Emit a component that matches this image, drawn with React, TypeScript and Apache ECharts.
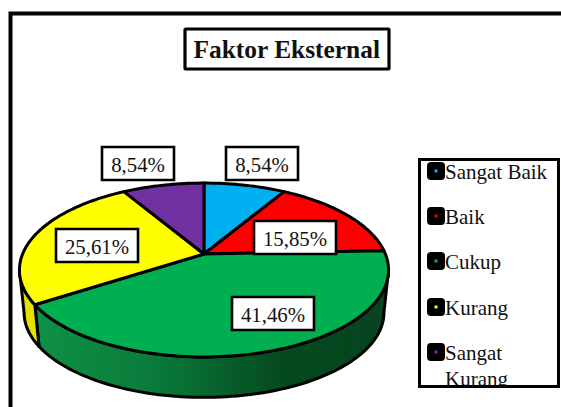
import React, { useEffect, useRef } from "react";
import * as echarts from "echarts";

const categories = ["Sangat Baik", "Baik", "Cukup", "Kurang", "Sangat Kurang"];
const legendLines = [["Sangat Baik"], ["Baik"], ["Cukup"], ["Kurang"], ["Sangat", "Kurang"]];
const values = [8.54, 15.85, 41.46, 25.61, 8.54];
const labels = ["8,54%", "15,85%", "41,46%", "25,61%", "8,54%"];
const colors = ["#00B0F0", "#FF0000", "#00B050", "#FFFF00", "#7030A0"];
const titleText = "Faktor Eksternal";

const FONT = "'Liberation Serif', serif";
const labelBoxes = [
  [226, 147, 72, 33],
  [254, 221, 82, 33],
  [232, 297, 82, 33],
  [56, 229, 82, 33],
  [102, 147, 72, 33],
];
const legendRows = [162, 207, 252, 298, 343];

// Perspective projection of the pie disc.
const CX = 204, CY = 254, A = 181.4, B = 84, K = 0.184, DEPTH = 43, SHRINK = 0.975;
const LEFT_VIS = 259.4, RIGHT_VIS = 100.6;

function project(deg: number, bottom = false): number[] {
  const r = (deg * Math.PI) / 180;
  const u = Math.sin(r), v = Math.cos(r), w = 1 + K * v;
  const s = bottom ? SHRINK : 1;
  return [CX + (A * s * u) / w, CY - (B * s * v) / w + (bottom ? DEPTH : 0)];
}
function rim(from: number, to: number, bottom = false): number[][] {
  const n = Math.max(2, Math.ceil(Math.abs(to - from) / 1.5));
  const pts: number[][] = [];
  for (let i = 0; i <= n; i++) pts.push(project(from + ((to - from) * i) / n, bottom));
  return pts;
}
const total = values.reduce((a, b) => a + b, 0);
function startAngle(i: number): number {
  let s = 0;
  for (let j = 0; j < i; j++) s += values[j];
  return (s / total) * 360;
}

const stroke = { stroke: "#000", lineWidth: 3, lineJoin: "round" as const };

function renderWedge(params: any, api: any) {
  const i = params.dataIndex;
  const a0 = startAngle(i);
  const a1 = a0 + (api.value(0) / total) * 360;
  const children: any[] = [];
  const s0 = Math.max(a0, RIGHT_VIS), s1 = Math.min(a1, LEFT_VIS);
  if (s1 > s0) {
    const isGreen = categories[i] === "Cukup";
    const fill = isGreen
      ? new echarts.graphic.LinearGradient(30, 0, 390, 0, [
          { offset: 0, color: "#0F9247" },
          { offset: 0.35, color: "#0A7A3A" },
          { offset: 0.7, color: "#05491F" },
          { offset: 1, color: "#07441F" },
        ], true)
      : "#E3E300";
    children.push({
      type: "polygon",
      shape: { points: [...rim(s0, s1), ...rim(s1, s0, true)] },
      style: { fill, ...stroke },
    });
  }
  children.push({
    type: "polygon",
    shape: { points: [[CX, CY], ...rim(a0, a1)] },
    style: { fill: colors[i], ...stroke },
  });
  return { type: "group", children };
}

function renderLabel(params: any) {
  const i = params.dataIndex;
  const [x, y, w, h] = labelBoxes[i];
  return {
    type: "group",
    children: [
      { type: "rect", shape: { x, y, width: w, height: h }, style: { fill: "#fff", stroke: "#000", lineWidth: 2.6 } },
      {
        type: "text",
        style: {
          x: x + w / 2, y: y + h / 2 + 1, text: labels[i], fill: "#111",
          font: `20.8px ${FONT}`, align: "center", verticalAlign: "middle",
        },
      },
    ],
  };
}

function legendGraphic() {
  const els: any[] = [];
  legendLines.forEach((lines, i) => {
    const top = legendRows[i];
    els.push({ type: "rect", z: 10, shape: { x: 427, y: top, width: 18, height: 18, r: 4 }, style: { fill: "#000" } });
    els.push({ type: "rect", z: 11, shape: { x: 434.5, y: top + 7.5, width: 3, height: 3 }, style: { fill: colors[i] } });
    lines.forEach((line, j) => {
      els.push({
        type: "text", z: 10,
        style: {
          x: 445, y: top + 9.5 + j * 26, text: line, fill: "#111",
          font: `21px ${FONT}`, align: "left", verticalAlign: "middle",
        },
      });
    });
  });
  return els;
}

export default function App() {
  const ref = useRef<HTMLDivElement>(null);
  useEffect(() => {
    document.body.style.margin = "0";
    document.body.style.background = "#fff";
    const chart = echarts.init(ref.current!, null, { renderer: "svg" });
    chart.setOption({
      animation: false,
      backgroundColor: "#fff",
      title: {
        text: titleText,
        left: 185,
        top: 28.5,
        padding: [6, 8.5, 7, 8.5],
        borderColor: "#000",
        borderWidth: 3.2,
        borderRadius: 1,
        backgroundColor: "#fff",
        textStyle: { fontFamily: FONT, fontWeight: "bold", fontSize: 25.4, color: "#111", lineHeight: 28 },
      },
      graphic: [
        { type: "polyline", z: 1, shape: { points: [[10.5, 407], [10.5, 13.5], [561, 13.5]] }, style: { fill: "none", stroke: "#000", lineWidth: 4 } },
        { type: "rect", z: 1, shape: { x: 419.5, y: 159.5, width: 139, height: 227 }, style: { fill: "#fff" } },
        ...legendGraphic(),
        { type: "rect", z: 20, shape: { x: 416, y: 387, width: 145, height: 20 }, style: { fill: "#fff" } },
        { type: "rect", z: 21, shape: { x: 419.5, y: 159.5, width: 139, height: 227 }, style: { fill: "none", stroke: "#000", lineWidth: 3 } },
      ],
      series: [
        { type: "custom", coordinateSystem: "none", renderItem: renderWedge, data: values.map((v) => [v]), z: 2, clip: false },
        { type: "custom", coordinateSystem: "none", renderItem: renderLabel, data: values.map((v) => [v]), z: 3, clip: false },
      ],
    });
    return () => chart.dispose();
  }, []);
  return <div ref={ref} style={{ width: 561, height: 407 }} />;
}
